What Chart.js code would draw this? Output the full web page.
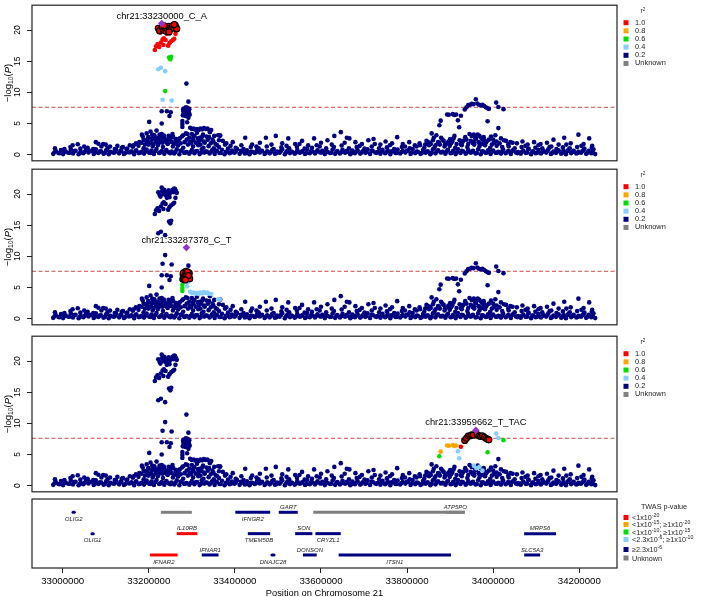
<!DOCTYPE html>
<html>
<head>
<meta charset="utf-8">
<script src="https://cdn.jsdelivr.net/npm/chart.js@4.4.1/dist/chart.umd.min.js"></script>
<style>
  body { margin: 0; background: #fff; }
  #wrap { position: relative; width: 708px; height: 597px; overflow: hidden; }
  canvas { position: absolute; left: 0; }
</style>
</head>
<body>
<div id="wrap">
  <canvas id="p1" width="708" height="166" style="top:0px"></canvas>
  <canvas id="p2" width="708" height="166" style="top:164px"></canvas>
  <canvas id="p3" width="708" height="166" style="top:331px"></canvas>
  <canvas id="genes" width="708" height="102" style="top:495px"></canvas>
</div>
<script>
// ---- data -------------------------------------------------------------

// lead SNP of each panel
const leadName = ["chr21:33230000_C_A", "chr21:33287378_C_T", "chr21:33959662_T_TAC"];
const leadKb = [33230, 33287.378, 33959.662];
const leadLogP = [21.05, 11.4, 8.9];

// dense background SNPs (kb position, -log10 P), navy in every panel
const lowKb = [32978, 32990, 33001, 33013, 33024, 33037, 33048, 33060, 33072, 33083,
  33095, 33107, 33118, 33131, 33142, 33154, 33166, 33177, 33189, 33201,
  33212, 33224, 33236, 33247, 33259, 33271, 33282, 33294, 33306, 33318,
  33329, 33341, 33353, 33364, 33376, 33388, 33399, 33411, 33423, 33434,
  33446, 33458, 33469, 33481, 33493, 33504, 33516, 33528, 33539, 33551,
  33563, 33574, 33586, 33598, 33609, 33621, 33633, 33644, 33656, 33668,
  33679, 33691, 33703, 33714, 33726, 33738, 33749, 33761, 33773, 33784,
  33796, 33808, 33819, 33831, 33843, 33854, 33866, 33878, 33889, 33901,
  33913, 33924, 33936, 33948, 33959, 33971, 33983, 33994, 34006, 34018,
  34029, 34041, 34053, 34064, 34076, 34088, 34099, 34111, 34123, 34134,
  34146, 34158, 34169, 34181, 34193, 34204, 34216, 34228, 34237];
const lowLogP = [0.12, 0.25, 0.08, 0.30, 0.18, 0.05, 0.22, 0.33, 0.10, 0.27,
  0.15, 0.06, 0.29, 0.20, 0.11, 0.34, 0.07, 0.24, 0.16, 0.31,
  0.09, 0.26, 0.13, 0.35, 0.19, 0.05, 0.28, 0.14, 0.23, 0.08,
  0.32, 0.17, 0.10, 0.26, 0.06, 0.21, 0.30, 0.12, 0.18, 0.07,
  0.25, 0.33, 0.11, 0.20, 0.15, 0.29, 0.05, 0.24, 0.13, 0.31,
  0.09, 0.22, 0.17, 0.34, 0.08, 0.27, 0.12, 0.19, 0.30, 0.06,
  0.23, 0.16, 0.28, 0.10, 0.33, 0.14, 0.21, 0.07, 0.26, 0.18,
  0.32, 0.09, 0.24, 0.12, 0.29, 0.05, 0.20, 0.35, 0.15, 0.22,
  0.08, 0.27, 0.13, 0.31, 0.18, 0.06, 0.25, 0.11, 0.30, 0.16,
  0.21, 0.09, 0.34, 0.14, 0.26, 0.07, 0.23, 0.19, 0.32, 0.10,
  0.28, 0.15, 0.05, 0.24, 0.17, 0.30, 0.12, 0.21, 0.08];

const lowMidKb = [32981, 32993, 33004, 33016, 33027, 33040, 33051, 33063, 33075, 33086,
  33098, 33110, 33121, 33134, 33145, 33157, 33169, 33180, 33192, 33204,
  33215, 33227, 33239, 33250, 33262, 33274, 33285, 33297, 33309, 33321,
  33332, 33344, 33356, 33367, 33379, 33391, 33402, 33414, 33426, 33437,
  33449, 33461, 33472, 33484, 33496, 33507, 33519, 33531, 33542, 33554,
  33566, 33577, 33589, 33601, 33612, 33624, 33636, 33647, 33659, 33671,
  33682, 33694, 33706, 33717, 33729, 33741, 33752, 33764, 33776, 33787,
  33799, 33811, 33822, 33834, 33846, 33857, 33869, 33881, 33892, 33904,
  33916, 33927, 33939, 33951, 33962, 33974, 33986, 33997, 34009, 34021,
  34032, 34044, 34056, 34067, 34079, 34091, 34102, 34114, 34126, 34137,
  34149, 34161, 34172, 34184, 34196, 34207, 34219, 34231];
const lowMidLogP = [0.38, 0.22, 0.47, 0.30, 0.55, 0.26, 0.42, 0.60, 0.33, 0.50,
  0.28, 0.45, 0.36, 0.58, 0.24, 0.41, 0.52, 0.31, 0.46, 0.27,
  0.57, 0.35, 0.49, 0.23, 0.44, 0.59, 0.32, 0.40, 0.53, 0.29,
  0.48, 0.37, 0.56, 0.25, 0.43, 0.34, 0.51, 0.60, 0.27, 0.46,
  0.39, 0.54, 0.30, 0.45, 0.22, 0.58, 0.36, 0.49, 0.33, 0.41,
  0.26, 0.52, 0.44, 0.35, 0.57, 0.29, 0.47, 0.38, 0.55, 0.24,
  0.50, 0.32, 0.43, 0.59, 0.28, 0.46, 0.37, 0.53, 0.25, 0.40,
  0.56, 0.34, 0.48, 0.23, 0.45, 0.31, 0.58, 0.39, 0.51, 0.27,
  0.42, 0.60, 0.33, 0.47, 0.26, 0.54, 0.36, 0.44, 0.29, 0.52,
  0.38, 0.57, 0.24, 0.46, 0.35, 0.50, 0.30, 0.43, 0.59, 0.27,
  0.48, 0.34, 0.55, 0.40, 0.25, 0.53, 0.31, 0.45];

const midKb = [32984, 32996, 33007, 33019, 33030, 33042, 33054, 33066, 33077, 33089,
  33101, 33112, 33124, 33136, 33148, 33160, 33171, 33183, 33195, 33206,
  33218, 33230, 33241, 33253, 33265, 33276, 33288, 33300, 33312, 33323,
  33335, 33347, 33358, 33370, 33382, 33393, 33405, 33417, 33428, 33440,
  33452, 33463, 33475, 33487, 33498, 33510, 33522, 33533, 33545, 33557,
  33568, 33580, 33592, 33603, 33615, 33627, 33638, 33650, 33662, 33673,
  33685, 33697, 33708, 33720, 33732, 33743, 33755, 33767, 33778, 33790,
  33802, 33813, 33825, 33837, 33848, 33860, 33872, 33883, 33895, 33907,
  33918, 33930, 33942, 33953, 33965, 33977, 33988, 34000, 34012, 34023,
  34035, 34047, 34058, 34070, 34082, 34093, 34105, 34117, 34128, 34140,
  34152, 34163, 34175, 34187, 34198, 34210, 34222, 34233];
const midLogP = [0.55, 0.72, 0.48, 0.81, 0.62, 0.44, 0.77, 0.58, 0.86, 0.51,
  0.69, 0.42, 0.75, 0.60, 0.88, 0.53, 0.67, 0.46, 0.79, 0.63,
  0.90, 0.57, 0.74, 0.49, 0.83, 0.65, 0.41, 0.71, 0.56, 0.85,
  0.47, 0.68, 0.59, 0.78, 0.43, 0.64, 0.87, 0.52, 0.70, 0.45,
  0.80, 0.61, 0.54, 0.76, 0.48, 0.84, 0.66, 0.42, 0.73, 0.58,
  0.89, 0.50, 0.69, 0.62, 0.44, 0.82, 0.55, 0.77, 0.47, 0.65,
  0.71, 0.53, 0.86, 0.60, 0.41, 0.75, 0.67, 0.49, 0.80, 0.57,
  0.63, 0.88, 0.46, 0.72, 0.54, 0.84, 0.68, 0.43, 0.78, 0.61,
  0.90, 0.52, 0.74, 0.59, 0.85, 0.48, 0.70, 0.64, 0.45, 0.81,
  0.56, 0.76, 0.42, 0.66, 0.87, 0.50, 0.73, 0.58, 0.83, 0.47,
  0.69, 0.55, 0.79, 0.62, 0.44, 0.75, 0.60, 0.86];

const highKb = [32982, 33004, 33018, 33041, 33058, 33071, 33090, 33104, 33121, 33137,
  33150, 33163, 33176, 33188, 33199, 33209, 33221, 33233, 33244, 33256,
  33268, 33280, 33291, 33303, 33315, 33327, 33339, 33351, 33363, 33384,
  33402, 33420, 33437, 33455, 33474, 33490, 33508, 33526, 33544, 33562,
  33579, 33597, 33612, 33630, 33648, 33665, 33683, 33701, 33718, 33735,
  33753, 33770, 33788, 33806, 33822, 33840, 33851, 33864, 33876, 33887,
  33899, 33912, 33927, 33940, 33956, 33968, 33981, 33993, 34008, 34021,
  34036, 34050, 34066, 34082, 34098, 34114, 34131, 34147, 34162, 34178,
  34195, 34212, 34229];
const highLogP = [1.0, 0.9, 1.2, 0.95, 1.1, 0.9, 1.3, 1.0, 0.9, 1.1,
  0.95, 1.25, 1.4, 1.0, 1.6, 1.3, 1.5, 1.2, 1.7, 1.3,
  1.45, 1.1, 1.6, 1.3, 1.5, 1.1, 1.35, 1.0, 1.2, 0.95,
  1.1, 0.9, 1.2, 1.0, 1.3, 0.9, 1.15, 1.0, 1.25, 0.95,
  1.1, 1.3, 1.0, 1.2, 1.45, 1.0, 1.2, 0.95, 1.3, 1.0,
  1.15, 0.9, 1.2, 1.0, 1.3, 1.1, 1.5, 1.2, 1.6, 1.3,
  1.4, 1.1, 1.5, 1.2, 1.6, 1.3, 1.5, 1.1, 1.4, 1.2,
  1.3, 1.0, 1.2, 0.95, 1.1, 1.0, 1.2, 0.9, 1.15, 1.0,
  1.2, 0.95, 1.1];

// extra SNPs filling the shoulders of both peaks
const fillKb = [
  33183, 33188, 33191, 33196, 33199, 33202, 33207, 33211, 33213, 33217,
  33220, 33223, 33225, 33229, 33232, 33236, 33238, 33243, 33245, 33249,
  33253, 33255, 33259, 33264, 33269, 33274, 33277, 33283, 33286, 33294,
  33298, 33304, 33309, 33314, 33320, 33324, 33328, 33337, 33344, 33350,
  33359, 33363, 33377, 33390,
  33842, 33848, 33855, 33860, 33866, 33874, 33882, 33888, 33896, 33902,
  33908, 33915, 33922, 33928, 33935, 33942, 33948, 33953, 33960, 33966,
  33975, 33978, 33983, 33990, 33997, 34008, 34015, 34025, 34035, 34045,
  33415, 33450, 33485, 33520, 33550, 33590, 33625, 33655, 33690, 33725,
  33760, 33795, 33830, 34075, 34105, 34135, 34170, 34205, 33050, 33100,
  33165];
const fillLogP = [
  1.9, 2.4, 1.6, 2.1, 2.8, 1.8, 2.5, 1.7, 3.1, 2.0,
  2.6, 1.8, 3.2, 2.3, 1.9, 2.7, 2.1, 1.8, 2.3, 2.9,
  2.0, 3.3, 1.7, 2.5, 2.2, 1.8, 2.9, 2.0, 3.4, 2.7,
  1.8, 2.3, 1.9, 2.6, 1.6, 2.9, 2.1, 2.4, 1.8, 2.1,
  1.5, 2.3, 1.6, 1.4,
  1.6, 2.0, 1.7, 2.3, 1.5, 1.9, 2.4, 1.6, 2.1, 1.8,
  2.6, 1.7, 2.3, 1.9, 2.8, 1.7, 2.2, 1.8, 2.5, 2.0,
  1.7, 2.8, 1.9, 2.4, 1.6, 2.1, 1.8, 2.3, 1.6, 1.9,
  1.5, 1.3, 1.6, 1.4, 1.7, 1.5, 1.6, 1.9, 1.4, 1.7,
  1.5, 1.3, 1.5, 1.4, 1.5, 1.3, 1.6, 1.4, 1.3, 1.6,
  1.5];

// scattered higher background SNPs, navy in every panel
const tallKb = [33230, 33242, 33251, 33248, 33201, 33230, 33292, 33218, 33230, 33184,
  33186, 33195, 33204, 33210, 33214, 33222, 33235, 33240, 33246, 33257,
  33262, 33272, 33267, 33300, 33306, 33312, 33318, 33326, 33334, 33342,
  33348, 33366, 33372, 33192, 33178, 33170, 33205, 33226, 33288, 33296,
  33316, 33330, 33355, 33380, 33395, 33198, 33208, 33216, 33228, 33250,
  33280, 33290, 33302, 33322, 33340, 33352, 33023, 33035, 33077, 33083,
  33094, 33110, 33127, 33156, 33140, 33424, 33440, 33458, 33472, 33495,
  33510, 33524, 33540, 33556, 33570, 33584, 33600, 33615, 33631, 33646,
  33660, 33666, 33680, 33695, 33710, 33722, 33738, 33750, 33765, 33777,
  33790, 33805, 33818, 33829, 33845, 33857, 33862, 33868, 33879, 33885,
  33900, 33910, 33930, 33945, 33950, 33958, 33964, 33972, 33980, 33995,
  34000, 34005, 34012, 34018, 34030, 34040, 34055, 34068, 34080, 34095,
  34110, 34125, 34140, 34152, 34165, 34180, 34198, 34210, 34223, 34230,
  33852, 33872, 33893, 33905, 33925, 33938, 33955, 33968, 33985, 34002];
const tallLogP = [6.95, 6.95, 6.8, 6.2, 5.25, 5.0, 8.5, 3.85, 3.3, 3.2,
  2.9, 3.4, 3.7, 2.9, 2.5, 2.7, 3.05, 2.4, 3.0, 2.8,
  2.2, 2.6, 1.9, 3.3, 3.0, 3.5, 2.7, 3.2, 2.9, 3.6,
  2.4, 3.05, 2.2, 2.3, 2.0, 1.8, 2.0, 2.1, 2.4, 2.0,
  2.2, 1.9, 1.7, 1.8, 2.0, 2.6, 3.2, 2.2, 2.9, 2.5,
  3.1, 3.3, 2.6, 2.4, 2.8, 3.0, 1.5, 1.65, 2.0, 1.75,
  1.7, 1.3, 1.4, 1.5, 1.2, 2.7, 1.6, 1.9, 2.7, 3.0,
  1.8, 2.6, 1.7, 2.2, 1.5, 2.6, 1.9, 2.3, 3.0, 3.6,
  2.7, 2.6, 2.0, 1.7, 2.3, 2.5, 1.6, 2.1, 1.8, 2.8,
  1.7, 2.0, 1.5, 1.8, 2.2, 3.4, 2.7, 3.1, 2.7, 2.2,
  2.5, 3.0, 2.2, 3.3, 3.0, 2.6, 3.2, 2.7, 2.3, 2.9,
  2.4, 3.1, 4.25, 2.6, 2.2, 2.0, 1.8, 2.1, 1.6, 2.0,
  1.7, 1.9, 2.4, 1.6, 2.7, 1.8, 3.2, 1.7, 2.6, 1.4,
  1.9, 2.0, 1.8, 2.1, 1.7, 2.4, 2.0, 1.8, 2.1, 1.9];

// signal SNPs whose colour depends on the panel's lead SNP
const sigKb = [
  33222, 33225, 33231, 33234, 33237, 33240, 33243, 33246, 33249, 33252, 33255, 33258, 33261, 33263, 33265, 33259, 33247, 33236,
  33214, 33217, 33220, 33224, 33228, 33232, 33235, 33239, 33242, 33245, 33248, 33248, 33252, 33256, 33259, 33262, 33234, 33227,
  33247, 33250, 33252, 33238, 33222, 33228, 33238, 33232, 33253,
  33279, 33280, 33281, 33282, 33283, 33284, 33285, 33286, 33287, 33289, 33290, 33291, 33293, 33294, 33295, 33280, 33282, 33284, 33286, 33288, 33290, 33292, 33285,
  33278, 33278, 33278, 33292, 33289, 33296, 33300, 33304, 33308, 33312, 33316, 33320, 33324, 33328, 33332, 33336, 33340, 33345, 33361, 33365,
  33934, 33938, 33942, 33946, 33950, 33954, 33963, 33967, 33971, 33975, 33979, 33983, 33987, 33990,
  33925, 33893, 33897, 33906, 33910, 33914, 33878, 33875, 33987, 34024, 34007, 34012, 33918, 33921, 33955, 33961, 33968, 33975];
const sigLogP = [
  20.3, 19.9, 20.5, 20.0, 20.4, 19.8, 20.2, 20.6, 20.1, 20.4, 20.7, 20.3, 20.8, 20.5, 20.2, 20.9, 19.7, 20.7,
  16.8, 17.4, 17.7, 17.3, 18.0, 18.5, 18.7, 18.4, 19.4, 17.5, 17.9, 19.5, 18.2, 18.4, 18.6, 19.4, 17.6, 19.6,
  15.6, 15.3, 15.7, 10.2, 13.7, 13.95, 13.4, 8.8, 8.7,
  6.3, 7.0, 6.6, 7.4, 6.8, 7.2, 6.5, 7.6, 6.9, 7.3, 6.6, 7.1, 6.8, 7.3, 6.4, 7.3, 6.4, 6.9, 7.2, 7.0, 7.5, 6.9, 6.2,
  5.4, 4.9, 4.45, 5.9, 5.2, 4.3, 4.1, 4.2, 4.0, 4.1, 3.95, 4.2, 4.05, 4.25, 4.1, 4.2, 4.0, 3.95, 3.1, 3.05,
  7.25, 7.6, 7.95, 8.0, 8.15, 8.1, 8.2, 8.0, 7.9, 8.0, 7.8, 7.6, 7.45, 7.35,
  6.25, 6.45, 6.4, 6.5, 6.35, 6.45, 5.45, 4.7, 5.35, 7.3, 8.35, 7.65, 5.5, 4.4, 3.2, 2.8, 3.0, 2.4];
const r2Lead1 = [
  1, 1, 1, 1, 1, 1, 1, 1, 1, 1, 1, 1, 1, 1, 1, 1, 1, 1,
  1, 1, 1, 1, 1, 1, 1, 1, 1, 1, 1, 1, 1, 1, 1, 1, 1, 1,
  0.6, 0.6, 0.6, 0.6, 0.4, 0.4, 0.4, 0.4, 0.4,
  0.2, 0.2, 0.2, 0.2, 0.2, 0.2, 0.2, 0.2, 0.2, 0.2, 0.2, 0.2, 0.2, 0.2, 0.2, 0.2, 0.2, 0.2, 0.2, 0.2, 0.2, 0.2, 0.2,
  0.2, 0.2, 0.2, 0.2, 0.2, 0.2, 0.2, 0.2, 0.2, 0.2, 0.2, 0.2, 0.2, 0.2, 0.2, 0.2, 0.2, 0.2, 0.2, 0.2,
  0.2, 0.2, 0.2, 0.2, 0.2, 0.2, 0.2, 0.2, 0.2, 0.2, 0.2, 0.2, 0.2, 0.2,
  0.2, 0.2, 0.2, 0.2, 0.2, 0.2, 0.2, 0.2, 0.2, 0.2, 0.2, 0.2, 0.2, 0.2, 0.2, 0.2, 0.2, 0.2];
const r2Lead2 = [
  0.2, 0.2, 0.2, 0.2, 0.2, 0.2, 0.2, 0.2, 0.2, 0.2, 0.2, 0.2, 0.2, 0.2, 0.2, 0.2, 0.2, 0.2,
  0.2, 0.2, 0.2, 0.2, 0.2, 0.2, 0.2, 0.2, 0.2, 0.2, 0.2, 0.2, 0.2, 0.2, 0.2, 0.2, 0.2, 0.2,
  0.2, 0.2, 0.2, 0.2, 0.2, 0.2, 0.2, 0.2, 0.2,
  1, 1, 1, 1, 1, 1, 1, 1, 1, 1, 1, 1, 1, 1, 1, 1, 1, 1, 1, 1, 1, 1, 1,
  0.6, 0.6, 0.6, 0.4, 0.4, 0.4, 0.4, 0.4, 0.4, 0.4, 0.4, 0.4, 0.4, 0.4, 0.4, 0.4, 0.4, 0.4, 0.4, 0.4,
  0.2, 0.2, 0.2, 0.2, 0.2, 0.2, 0.2, 0.2, 0.2, 0.2, 0.2, 0.2, 0.2, 0.2,
  0.2, 0.2, 0.2, 0.2, 0.2, 0.2, 0.2, 0.2, 0.2, 0.2, 0.2, 0.2, 0.2, 0.2, 0.2, 0.2, 0.2, 0.2];
const r2Lead3 = [
  0.2, 0.2, 0.2, 0.2, 0.2, 0.2, 0.2, 0.2, 0.2, 0.2, 0.2, 0.2, 0.2, 0.2, 0.2, 0.2, 0.2, 0.2,
  0.2, 0.2, 0.2, 0.2, 0.2, 0.2, 0.2, 0.2, 0.2, 0.2, 0.2, 0.2, 0.2, 0.2, 0.2, 0.2, 0.2, 0.2,
  0.2, 0.2, 0.2, 0.2, 0.2, 0.2, 0.2, 0.2, 0.2,
  0.2, 0.2, 0.2, 0.2, 0.2, 0.2, 0.2, 0.2, 0.2, 0.2, 0.2, 0.2, 0.2, 0.2, 0.2, 0.2, 0.2, 0.2, 0.2, 0.2, 0.2, 0.2, 0.2,
  0.2, 0.2, 0.2, 0.2, 0.2, 0.2, 0.2, 0.2, 0.2, 0.2, 0.2, 0.2, 0.2, 0.2, 0.2, 0.2, 0.2, 0.2, 0.2, 0.2,
  1, 1, 1, 1, 1, 1, 1, 1, 1, 1, 1, 1, 1, 1,
  1, 0.8, 0.8, 0.8, 0.8, 0.8, 0.8, 0.6, 0.6, 0.6, 0.4, 0.4, 0.4, 0.4, 0.4, 0.4, 0.4, 0.4];
// which lead's credible set a signal SNP belongs to (0 = none)
const credibleSet = [
  1, 1, 1, 1, 1, 1, 1, 1, 1, 1, 1, 1, 1, 1, 1, 1, 1, 1,
  0, 0, 0, 0, 0, 0, 0, 0, 0, 0, 0, 0, 0, 0, 0, 0, 0, 0,
  0, 0, 0, 0, 0, 0, 0, 0, 0,
  2, 2, 2, 2, 2, 2, 2, 2, 2, 2, 2, 2, 2, 2, 2, 2, 2, 2, 2, 2, 2, 2, 2,
  0, 0, 0, 0, 0, 0, 0, 0, 0, 0, 0, 0, 0, 0, 0, 0, 0, 0, 0, 0,
  3, 3, 3, 3, 3, 3, 3, 3, 3, 3, 3, 3, 3, 3,
  0, 0, 0, 0, 0, 0, 0, 0, 0, 0, 0, 0, 0, 0, 0, 0, 0, 0];

const r2Bins = [1.0, 0.8, 0.6, 0.4, 0.2];
const r2Labels = ["1.0", "0.8", "0.6", "0.4", "0.2", "Unknown"];
const yTicks = [0, 5, 10, 15, 20];
const genomeWideLogP = 7.6;

// gene track
const geneName    = ["OLIG2", "", "IFNGR2", "GART", "", "ATP5PO", "OLIG1", "IL10RB", "TMEM50B", "SON", "CRYZL1", "MRPS6", "IFNAR2", "IFNAR1", "DNAJC28", "DONSON", "ITSN1", "SLC5A3"];
const geneStartKb = [33024, 33228, 33401, 33502, 33582, 33890, 33068, 33265, 33430, 33540, 33587, 34072, 33203, 33323, 33486, 33558, 33641, 34072];
const geneEndKb   = [33027, 33300, 33482, 33546, 33934, 33934, 33071, 33313, 33482, 33580, 33646, 34146, 33267, 33362, 33491, 33590, 33902, 34109];
const geneRow     = [1, 1, 1, 1, 1, 1, 2, 2, 2, 2, 2, 2, 3, 3, 3, 3, 3, 3];
const geneTwas    = [4, 5, 4, 4, 5, 5, 4, 0, 4, 4, 4, 4, 0, 4, 4, 4, 4, 4];
const geneLabelUp = [0, 0, 0, 1, 0, 1, 0, 1, 0, 1, 0, 1, 0, 1, 0, 1, 0, 1];
const twasLabels = [
  [["<1x10", 0], ["-20", 1]],
  [["<1x10", 0], ["-15", 1], ["; \u22651x10", 0], ["-20", 1]],
  [["<1x10", 0], ["-10", 1], ["; \u22651x10", 0], ["-15", 1]],
  [["<2.3x10", 0], ["-6", 1], ["; \u22651x10", 0], ["-10", 1]],
  [["\u22652.3x10", 0], ["-6", 1]],
  [["Unknown", 0]]
];
const xTicks = [33000000, 33200000, 33400000, 33600000, 33800000, 34000000, 34200000];

// ---- style ------------------------------------------------------------
const palette = ["#FF0000", "#FFA500", "#00DD00", "#87CEFA", "#000080", "#808080"];
const leadColor = "#9437C8";
const X_MIN = 32928700, X_MAX = 34287600;
const FONT = "'Liberation Sans', Arial, sans-serif";
Chart.defaults.font.family = FONT;
Chart.defaults.color = "#000";

function pts(kb, lp) {
  return kb.map((k, i) => ({ x: k * 1000, y: lp[i] }));
}

// draw a run of text pieces, flag 1 = superscript, 2 = subscript, 3 = italic
function drawRich(ctx, parts, x, y, size, align) {
  const fontFor = f => (f === 3 ? "italic " : "") + (f === 1 || f === 2 ? size * 0.72 : size) + "px " + FONT;
  let total = 0;
  parts.forEach(([t, f]) => { ctx.font = fontFor(f); total += ctx.measureText(t).width; });
  let cx = align === "center" ? x - total / 2 : x;
  ctx.textAlign = "left";
  ctx.textBaseline = "alphabetic";
  parts.forEach(([t, f]) => {
    ctx.font = fontFor(f);
    const dy = f === 1 ? -size * 0.4 : f === 2 ? size * 0.3 : 0;
    ctx.fillText(t, cx, y + dy);
    cx += ctx.measureText(t).width;
  });
}

function panelDatasets(p) {
  const r2 = [r2Lead1, r2Lead2, r2Lead3][p];
  const bins = r2Bins.map(() => []);
  const ring = [];
  sigKb.forEach((k, i) => {
    const pt = { x: k * 1000, y: sigLogP[i] };
    if (credibleSet[i] === p + 1) ring.push(pt);
    else bins[r2Bins.indexOf(r2[i])].push(pt);
  });
  const navy = [].concat(pts(lowKb, lowLogP), pts(lowMidKb, lowMidLogP), pts(midKb, midLogP),
    pts(highKb, highLogP), pts(fillKb, fillLogP), pts(tallKb, tallLogP), bins[4]);
  leadKb.forEach((k, j) => { if (j !== p) navy.push({ x: k * 1000, y: leadLogP[j] }); });

  const dot = (data, color, order) => ({
    data, order, pointRadius: 2.3, pointBorderWidth: 0,
    pointBackgroundColor: color, pointBorderColor: color
  });
  return [
    {
      data: [{ x: X_MIN, y: genomeWideLogP }, { x: X_MAX, y: genomeWideLogP }],
      showLine: true, borderColor: "#CF4A4A", borderWidth: 1, borderDash: [4, 2.5],
      pointRadius: 0, order: 20
    },
    dot(navy, palette[4], 10),
    dot(bins[3], palette[3], 9),
    dot(bins[2], palette[2], 8),
    dot(bins[1], palette[1], 7),
    dot(bins[0], palette[0], 6),
    {
      data: ring, order: 5, pointRadius: 3, pointBorderWidth: 1.2,
      pointBackgroundColor: palette[0], pointBorderColor: "#000"
    },
    {
      data: [{ x: leadKb[p] * 1000, y: leadLogP[p] }], order: 1,
      pointStyle: "rectRot", pointRadius: 3.8, pointBorderWidth: 0,
      pointBackgroundColor: leadColor, pointBorderColor: leadColor
    }
  ];
}

const decorPlugin = {
  id: "decor",
  afterDraw(chart, args, opts) {
    const ctx = chart.ctx;
    const a = chart.chartArea;
    ctx.save();
    ctx.strokeStyle = "#222";
    ctx.lineWidth = 1.2;
    ctx.strokeRect(a.left, a.top, a.right - a.left, a.bottom - a.top);
    ctx.fillStyle = "#000";

    if (opts.kind === "assoc") {
      const p = opts.panel;
      const xs = chart.scales.x, ys = chart.scales.y;
      // rotated y tick labels
      ctx.font = "8.5px " + FONT;
      yTicks.forEach(v => {
        ctx.save();
        ctx.translate(17.3, ys.getPixelForValue(v));
        ctx.rotate(-Math.PI / 2);
        ctx.textAlign = "center";
        ctx.textBaseline = "middle";
        ctx.fillText(String(v), 0, 0);
        ctx.restore();
      });
      // y title
      ctx.save();
      ctx.translate(10.5, (a.top + a.bottom) / 2);
      ctx.rotate(-Math.PI / 2);
      drawRich(ctx, [["\u2212log", 0], ["10", 2], ["(", 0], ["P", 3], [")", 0]], 0, 0, 9.5, "center");
      ctx.restore();
      // lead label
      ctx.font = "9.3px " + FONT;
      ctx.textAlign = "center";
      ctx.textBaseline = "middle";
      ctx.fillText(leadName[p], xs.getPixelForValue(leadKb[p] * 1000), ys.getPixelForValue(leadLogP[p]) - 7.5);
      // r2 legend
      ctx.fillStyle = "#222";
      drawRich(ctx, [["r", 0], ["2", 1]], 643, a.top + 8, 6.5, "center");
      ctx.font = "7.4px " + FONT;
      ctx.textAlign = "left";
      ctx.textBaseline = "middle";
      r2Labels.forEach((lab, i) => {
        const y = a.top + 17.5 + i * 8.15;
        ctx.fillStyle = palette[i];
        ctx.fillRect(623.5, y - 2.5, 5, 5);
        ctx.fillStyle = "#222";
        ctx.fillText(lab, 635, y);
      });
    } else {
      const xs = chart.scales.x, ys = chart.scales.y;
      // gene labels
      ctx.font = "italic 6px " + FONT;
      ctx.textAlign = "center";
      ctx.textBaseline = "middle";
      ctx.fillStyle = "#222";
      geneName.forEach((g, i) => {
        if (!g) return;
        const x = xs.getPixelForValue((geneStartKb[i] + geneEndKb[i]) / 2 * 1000);
        const y = ys.getPixelForValue(geneRow[i]) + (geneLabelUp[i] ? -5 : 7);
        ctx.fillText(g, x, y);
      });
      // x title
      ctx.font = "9.3px " + FONT;
      ctx.fillStyle = "#000";
      ctx.fillText("Position on Chromosome 21", (a.left + a.right) / 2, 98.5);
      // TWAS legend
      ctx.fillStyle = "#222";
      ctx.font = "7.2px " + FONT;
      ctx.fillText("TWAS p-value", 664, a.top + 8);
      const rowY = [18.5, 25.5, 33, 40.5, 50.5, 59];
      twasLabels.forEach((parts, i) => {
        const y = a.top + rowY[i];
        ctx.fillStyle = palette[i];
        ctx.fillRect(623.5, y - 2.5, 5, 5);
        ctx.fillStyle = "#222";
        drawRich(ctx, parts, 632, y + 2.6, 7.2, "left");
      });
    }
    ctx.restore();
  }
};

function assocChart(id, p, padTop, padBottom) {
  return new Chart(document.getElementById(id), {
    type: "scatter",
    data: { datasets: panelDatasets(p) },
    options: {
      responsive: false,
      animation: false,
      events: [],
      layout: { padding: { left: 0, right: 91, top: padTop, bottom: padBottom } },
      plugins: { legend: { display: false }, tooltip: { enabled: false }, decor: { kind: "assoc", panel: p } },
      scales: {
        x: { type: "linear", min: X_MIN, max: X_MAX, display: false },
        y: {
          type: "linear", min: -1, max: 24, position: "left",
          afterBuildTicks: s => { s.ticks = yTicks.map(v => ({ value: v })); },
          afterFit: s => { s.width = 32; },
          ticks: { display: false },
          grid: { drawOnChartArea: false, drawTicks: true, tickLength: 5, color: "#222", lineWidth: 1 },
          border: { display: false }
        }
      }
    },
    plugins: [decorPlugin]
  });
}

assocChart("p1", 0, 1, 5);
assocChart("p2", 1, 3, 3);
assocChart("p3", 2, 3, 3);

// Gene track with TWAS colouring
new Chart(document.getElementById("genes"), {
  type: "scatter",
  data: {
    datasets: geneName.map((g, i) => ({
      data: [{ x: geneStartKb[i] * 1000, y: geneRow[i] }, { x: geneEndKb[i] * 1000, y: geneRow[i] }],
      showLine: true,
      borderColor: palette[geneTwas[i]],
      borderWidth: 3,
      borderCapStyle: geneEndKb[i] - geneStartKb[i] < 12 ? "round" : "butt",
      pointRadius: 0
    }))
  },
  options: {
    responsive: false,
    animation: false,
    events: [],
    layout: { padding: { left: 32, right: 91, top: 4, bottom: 0 } },
    plugins: { legend: { display: false }, tooltip: { enabled: false }, decor: { kind: "genes" } },
    scales: {
      x: {
        type: "linear", min: X_MIN, max: X_MAX, position: "bottom",
        afterBuildTicks: s => { s.ticks = xTicks.map(v => ({ value: v })); },
        afterFit: s => { s.height = 29; },
        ticks: { color: "#000", font: { size: 9.7 }, padding: 3, maxRotation: 0, autoSkip: false, callback: v => String(v) },
        grid: { drawOnChartArea: false, drawTicks: true, tickLength: 5, color: "#222" },
        border: { display: false }
      },
      y: { type: "linear", min: 0.377, max: 3.61, reverse: true, display: false }
    }
  },
  plugins: [decorPlugin]
});
</script>
</body>
</html>
